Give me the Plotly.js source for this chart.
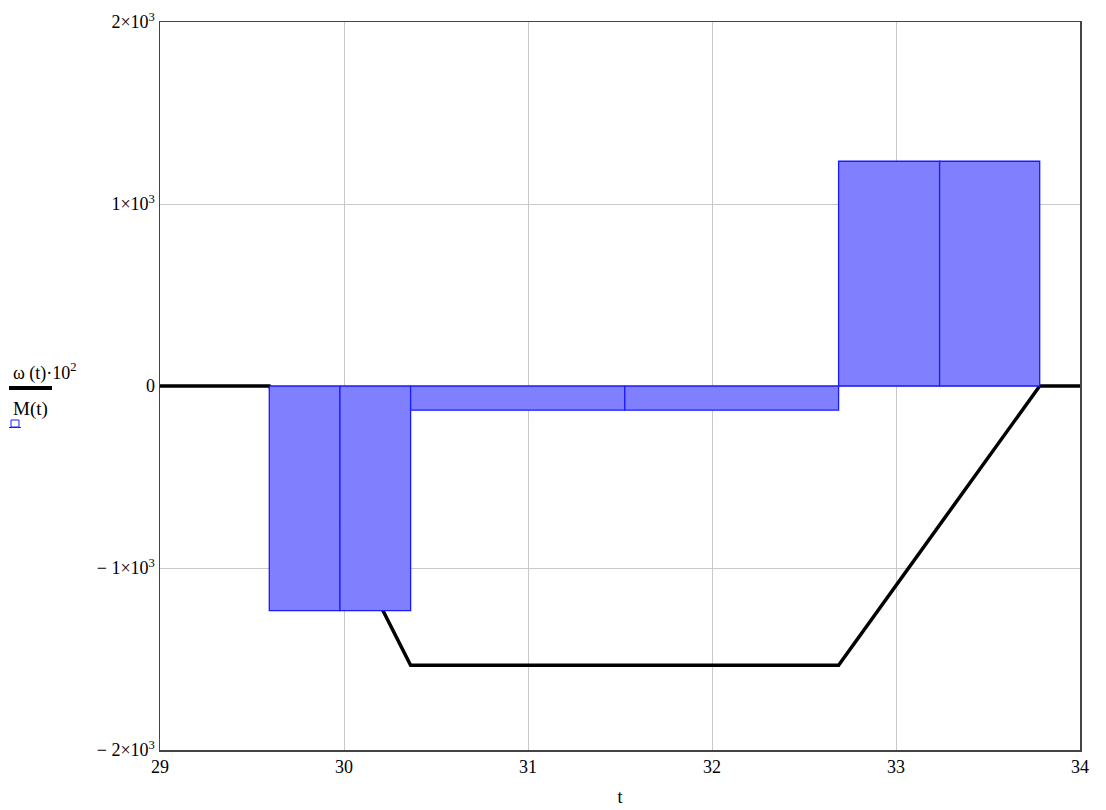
<!DOCTYPE html>
<html>
<head>
<meta charset="utf-8">
<script src="https://cdn.plot.ly/plotly-3.0.1.min.js"></script>
<style>html,body{margin:0;padding:0;background:#fff;}#chart{width:1106px;height:810px;}</style>
</head>
<body>
<div id="chart"></div>
<script>
// Step bars M(t): interval start, interval end, value
const barStart = [29.594, 29.978, 30.362, 31.526, 32.688, 33.237];
const barEnd   = [29.978, 30.362, 31.526, 32.688, 33.237, 33.781];
const barValue = [-1234, -1234, -133, -133, 1235, 1235];

// omega(t)*10^2 polyline
const omegaT = [29, 29.594, 30.362, 32.688, 33.781, 34];
const omegaV = [0, 0, -1534, -1534, 0, 0];

// tick labels
const xTicks = [29, 30, 31, 32, 33, 34];
const xTickText = ['29', '30', '31', '32', '33', '34'];
const yTicks = [-2000, -1000, 0, 1000, 2000];
const yTickText = ['− 2×10<sup>3</sup>', '− 1×10<sup>3</sup>', '0', '1×10<sup>3</sup>', '2×10<sup>3</sup>'];

const FAM = "Liberation Serif, Times New Roman, serif";
const font = {family: FAM, size: 18, color: '#000'};

const traces = [
  {
    type: 'scatter', mode: 'lines', x: omegaT, y: omegaV,
    line: {color: '#000', width: 3.5}, hoverinfo: 'skip', showlegend: false
  }
];
// bars drawn as closed filled paths above the line
barStart.forEach((s, i) => {
  const e = barEnd[i], v = barValue[i];
  traces.push({
    type: 'scatter', mode: 'lines',
    x: [s, s, e, e, s], y: [0, v, v, 0, 0],
    fill: 'toself', fillcolor: '#8080ff',
    line: {color: '#1a1aff', width: 1.3},
    hoverinfo: 'skip', showlegend: false
  });
});

const px = v => (v - 160) / 920;   // pixel -> paper x
const py = v => (750 - v) / 728;   // pixel -> paper y

const layout = {
  width: 1106, height: 810,
  margin: {l: 160, r: 26, t: 22, b: 60},
  paper_bgcolor: '#fff', plot_bgcolor: '#fff',
  font: font,
  xaxis: {
    range: [29, 34], tickvals: xTicks, ticktext: xTickText,
    showgrid: true, gridcolor: '#c8c8c8', gridwidth: 1,
    zeroline: false, showline: true, mirror: true, linecolor: '#444', linewidth: 1.5,
    ticks: '', tickfont: font,
    title: {text: 't', font: font, standoff: 14}
  },
  yaxis: {
    range: [-2000, 2000], tickvals: yTicks, ticktext: yTickText,
    showgrid: true, gridcolor: '#c8c8c8', gridwidth: 1,
    zeroline: false, showline: true, mirror: true, linecolor: '#444', linewidth: 1.5,
    ticks: '', tickfont: font, ticklabelstandoff: 0
  },
  shapes: [
    {type: 'line', xref: 'paper', yref: 'paper', x0: px(9), x1: px(52), y0: py(388), y1: py(388),
     line: {color: '#000', width: 4}},
    {type: 'rect', xref: 'paper', yref: 'paper', x0: px(11), x1: px(19), y0: py(427), y1: py(420),
     line: {color: '#1a1aff', width: 1}},
    {type: 'line', xref: 'paper', yref: 'paper', x0: px(9), x1: px(21), y0: py(427.5), y1: py(427.5),
     line: {color: '#1a1aff', width: 1}}
  ],
  annotations: [
    {xref: 'paper', yref: 'paper', x: px(11), y: py(372), xanchor: 'left', yanchor: 'middle', showarrow: false,
     text: 'ω (t)·10<sup>2</sup>', font: {family: FAM, size: 18, color: '#000'}},
    {xref: 'paper', yref: 'paper', x: px(11), y: py(409), xanchor: 'left', yanchor: 'middle', showarrow: false,
     text: 'M(t)', font: {family: FAM, size: 19, color: '#000'}}
  ]
};

Plotly.newPlot('chart', traces, layout, {displayModeBar: false, staticPlot: true});
</script>
</body>
</html>
